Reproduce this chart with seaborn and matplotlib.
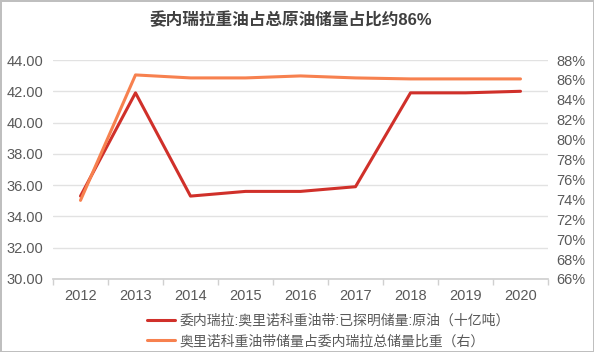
import matplotlib
matplotlib.use("Agg")
import matplotlib.pyplot as plt
import matplotlib.ticker as mticker
import pandas as pd
import seaborn as sns

# data
years = ["2012", "2013", "2014", "2015", "2016", "2017", "2018", "2019", "2020"]
reserves = [35.3, 41.9, 35.3, 35.6, 35.6, 35.9, 41.9, 41.9, 42.0]
share_pct = [73.9, 86.5, 86.2, 86.2, 86.4, 86.2, 86.1, 86.1, 86.1]

title = "委内瑞拉重油占总原油储量占比约86%"
label_left = "委内瑞拉:奥里诺科重油带:已探明储量:原油（十亿吨）"
label_right = "奥里诺科重油带储量占委内瑞拉总储量比重（右）"

red = "#D0302A"
orange = "#F7814F"
text_grey = "#595959"
grid_grey = "#E2E2E2"

sns.set_theme(style="white")
plt.rcParams["font.family"] = ["Liberation Sans", "Noto Sans CJK SC", "DejaVu Sans"]

df = pd.DataFrame({"year": years, "reserves": reserves, "share": share_pct})

fig = plt.figure(figsize=(5.94, 3.52), dpi=100)
ax = fig.add_axes([53 / 594, 1 - 279 / 352, 495 / 594, 219 / 352])
ax2 = ax.twinx()

sns.lineplot(data=df, x="year", y="reserves", ax=ax, color=red, linewidth=2.2,
             sort=False, label=label_left, legend=False)
sns.lineplot(data=df, x="year", y="share", ax=ax2, color=orange, linewidth=2.2,
             sort=False, label=label_right, legend=False)

ax.set_xlim(-0.5, len(years) - 0.5)
ax.set_ylim(30, 44)
ax.yaxis.set_major_locator(mticker.MultipleLocator(2))
ax.yaxis.set_major_formatter(mticker.FormatStrFormatter("%.2f"))
ax2.set_ylim(66, 88)
ax2.yaxis.set_major_locator(mticker.MultipleLocator(2))
ax2.yaxis.set_major_formatter(mticker.FuncFormatter(lambda v, p: f"{v:.0f}%"))

ax.grid(axis="y", color=grid_grey, linewidth=1)
ax.grid(axis="x", visible=False)
ax2.grid(False)
ax.set_axisbelow(True)

for a in (ax, ax2):
    a.set_xlabel("")
    a.set_ylabel("")
    for side in ("top", "left", "right", "bottom"):
        a.spines[side].set_visible(False)
ax.spines["bottom"].set_visible(True)
ax.spines["bottom"].set_color("#D0D0D0")

ax.set_xticks(range(len(years)))
ax.set_xticklabels(years)
ax.set_xticks([i - 0.5 for i in range(len(years) + 1)], minor=True)
ax.tick_params(axis="x", which="major", length=0, pad=7, labelsize=10.5, labelcolor=text_grey)
ax.tick_params(axis="x", which="minor", length=4, color="#D0D0D0", bottom=True)
ax.tick_params(axis="y", length=0, pad=7, labelsize=10.5, labelcolor=text_grey)
ax2.tick_params(axis="y", length=0, pad=6, labelsize=10.5, labelcolor=text_grey)

fig.text(291 / 594, 1 - 20 / 352, title, ha="center", va="center",
         fontsize=12, fontweight="bold", color="#404040")

h1, l1 = ax.get_legend_handles_labels()
h2, l2 = ax2.get_legend_handles_labels()
fig.legend(h1 + h2, l1 + l2, loc="center left",
           bbox_to_anchor=(147 / 594, 1 - 331 / 352), frameon=False,
           fontsize=10, labelcolor=text_grey, handlelength=2.0,
           handletextpad=0.35, labelspacing=0.45, borderaxespad=0, borderpad=0)

fig.patch.set_edgecolor("#BFBFBF")
fig.patch.set_linewidth(2)

fig.savefig("out.png", dpi=100, edgecolor=fig.get_edgecolor())
